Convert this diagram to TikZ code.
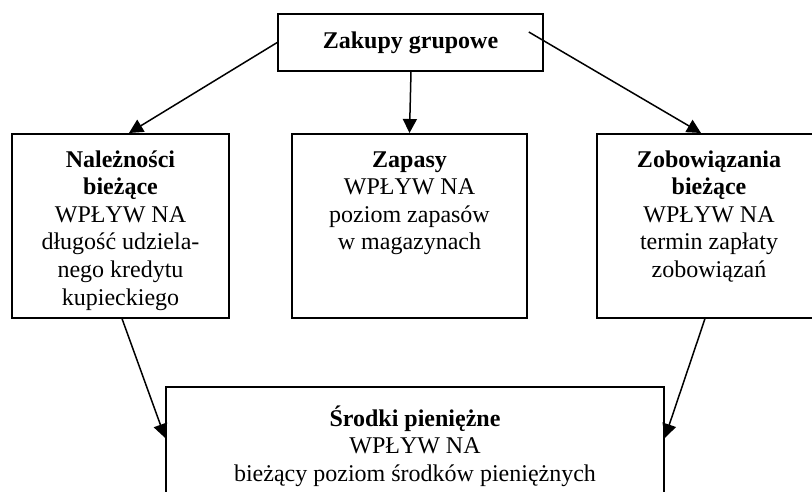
\documentclass[tikz,border=0pt]{standalone}
\usepackage{fontspec}
\setmainfont{Liberation Serif}
\usetikzlibrary{positioning}
\usetikzlibrary{arrows.meta}
\newcommand{\opis}[3]{\parbox[t][#1][t]{#2}{\centering\strut #3}}

\begin{document}
\begin{tikzpicture}[x=1pt, y=-1pt,
    box/.style={draw, line width=1.6pt, fill=white, inner xsep=4pt, inner ysep=14pt, font=\fontsize{24}{27.6}\selectfont},
    arr/.style={-{Triangle[length=14pt,width=14pt]}, line width=1.5pt}]
    \useasboundingbox (0,0) rectangle (812,491);

    \node[box, inner ysep=0pt, minimum width=265pt, minimum height=57pt] (zakupy) at (410.5,42.5) {\textbf{Zakupy grupowe}};

    \node[box, anchor=north] (naleznosci) at (120.5,133) {\opis{156pt}{209pt}{\textbf{Należności\\bieżące}\\WPŁYW NA\\długość udziela-\\nego kredytu\\kupieckiego}};
    \node[box, anchor=north] (zapasy) at (409.5,133) {\opis{156pt}{227pt}{\textbf{Zapasy}\\WPŁYW NA\\poziom zapasów\\w magazynach}};
    \node[box, anchor=north] (zobowiazania) at (709,133) {\opis{156pt}{216pt}{\textbf{Zobowiązania\\bieżące}\\WPŁYW NA\\termin zapłaty\\zobowiązań}};

    \node[box, anchor=north, inner ysep=19pt] (srodki) at (415,386) {\opis{120pt}{490pt}{\textbf{Środki pieniężne}\\WPŁYW NA\\bieżący poziom środków pieniężnych}};

    \draw[arr] (zakupy.west) -- ([xshift=8.5pt]naleznosci.north);
    \draw[arr] ([xshift=0.5pt]zakupy.south) -- (zapasy.north);
    \draw[arr] ([xshift=-15pt, yshift=10.5pt]zakupy.east) -- ([xshift=-8pt]zobowiazania.north);

    \draw[arr] ([xshift=1.5pt]naleznosci.south) -- ([yshift=-52pt]srodki.north west);
    \draw[arr] ([xshift=-4pt]zobowiazania.south) -- ([yshift=-52pt]srodki.north east);
\end{tikzpicture}
\end{document}
